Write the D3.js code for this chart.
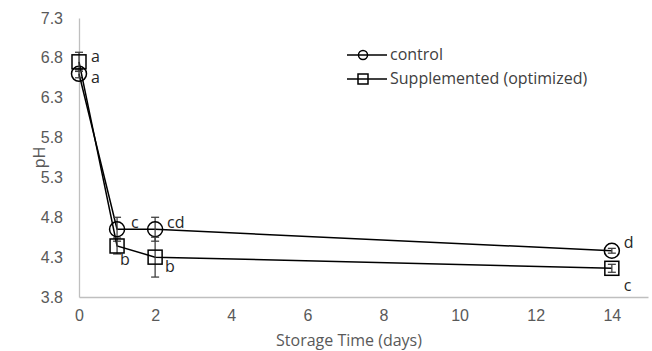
<!DOCTYPE html>
<html>
<head>
<meta charset="utf-8">
<script src="https://cdn.jsdelivr.net/npm/d3@7"></script>
<style>
  body { margin: 0; background: #fff; }
  svg { font-family: "Open Sans", "Liberation Sans", sans-serif; }
</style>
</head>
<body>
<div id="chart"></div>
<script>
// storage days
var days = [0, 1, 2, 14];

// mean pH per series
var controlPH = [6.6, 4.65, 4.65, 4.38];
var suppPH = [6.75, 4.44, 4.3, 4.16];

// error bar half-widths
var controlErr = [0.05, 0.15, 0.15, 0.03];
var suppErr = [0.12, 0.1, 0.25, 0.05];

// significance letters
var controlLetters = ['a', 'c', 'cd', 'd'];
var suppLetters = ['a', 'b', 'b', 'c'];

var seriesNames = ['control', 'Supplemented (optimized)'];
var xTicks = [0, 2, 4, 6, 8, 10, 12, 14];
var yTicks = [3.8, 4.3, 4.8, 5.3, 5.8, 6.3, 6.8, 7.3];

var width = 652, height = 351;
var margin = {top: 18, left: 79, right: 4, bottom: 54};

var svg = d3.select('#chart').append('svg')
    .attr('width', width)
    .attr('height', height);

var x = d3.scaleLinear()
    .domain([0, 14.95])
    .range([margin.left, width - margin.right]);

var y = d3.scaleLinear()
    .domain([3.8, 7.3])
    .range([height - margin.bottom, margin.top]);

var grey = '#bfbfbf';
var textGrey = '#595959';
var fs = '16px';

// axes
var xAxis = svg.append('g')
    .attr('transform', 'translate(0,' + y(3.8) + ')')
    .call(d3.axisBottom(x).tickValues(xTicks).tickSize(0).tickPadding(13));
xAxis.select('path').attr('stroke', grey).attr('stroke-width', 1.3);
xAxis.selectAll('text').attr('fill', textGrey).style('font-size', fs);

var yAxis = svg.append('g')
    .attr('transform', 'translate(' + x(0) + ',0)')
    .call(d3.axisLeft(y).tickValues(yTicks).tickFormat(d3.format('.1f')).tickSize(0).tickPadding(16));
yAxis.select('path').attr('stroke', grey).attr('stroke-width', 1.3);
yAxis.selectAll('text').attr('fill', textGrey).style('font-size', fs);

svg.append('text')
    .attr('x', 349)
    .attr('y', 346)
    .attr('text-anchor', 'middle')
    .attr('fill', textGrey)
    .style('font-size', fs)
    .text('Storage Time (days)');

svg.append('text')
    .attr('transform', 'translate(45,' + ((y(3.8) + y(7.3)) / 2) + ') rotate(-90)')
    .attr('text-anchor', 'middle')
    .attr('fill', textGrey)
    .style('font-size', fs)
    .text('pH');

var line = d3.line()
    .x(d => x(d[0]))
    .y(d => y(d[1]));

function drawSeries(vals, errs, letters, shape, labelOffsets) {
    var pts = days.map((d, i) => [d, vals[i]]);
    var g = svg.append('g');

    g.append('path')
        .attr('d', line(pts))
        .attr('fill', 'none')
        .attr('stroke', 'black')
        .attr('stroke-width', 1.5);

    // error bars
    pts.forEach((p, i) => {
        var cx = x(p[0]), top = y(p[1] + errs[i]), bot = y(p[1] - errs[i]);
        g.append('line').attr('x1', cx).attr('x2', cx).attr('y1', top).attr('y2', bot)
            .attr('stroke', '#404040').attr('stroke-width', 1.3);
        [top, bot].forEach(yy => {
            g.append('line').attr('x1', cx - 4).attr('x2', cx + 4).attr('y1', yy).attr('y2', yy)
                .attr('stroke', '#404040').attr('stroke-width', 1.3);
        });
    });

    // markers
    pts.forEach(p => {
        if (shape === 'circle') {
            g.append('circle').attr('cx', x(p[0])).attr('cy', y(p[1])).attr('r', 7.5)
                .attr('fill', 'none').attr('stroke', 'black').attr('stroke-width', 1.5);
        } else {
            g.append('rect').attr('x', x(p[0]) - 7).attr('y', y(p[1]) - 7)
                .attr('width', 14).attr('height', 14)
                .attr('fill', 'none').attr('stroke', 'black').attr('stroke-width', 1.5);
        }
    });

    // letters
    pts.forEach((p, i) => {
        g.append('text')
            .attr('x', x(p[0]) + labelOffsets[i][0])
            .attr('y', y(p[1]) + labelOffsets[i][1])
            .attr('fill', '#262626')
            .style('font-size', fs)
            .text(letters[i]);
    });
}

drawSeries(controlPH, controlErr, controlLetters, 'circle', [[12, 9], [14, -1], [12, -1], [12, -3]]);
drawSeries(suppPH, suppErr, suppLetters, 'square', [[12, 0], [3, 19], [10, 15], [12, 23]]);

// legend
var legend = svg.append('g');
seriesNames.forEach((name, i) => {
    var ly = 55 + i * 24;
    legend.append('line').attr('x1', 347).attr('x2', 387).attr('y1', ly).attr('y2', ly)
        .attr('stroke', 'black').attr('stroke-width', 1.5);
    if (i === 0) {
        legend.append('circle').attr('cx', 363).attr('cy', ly).attr('r', 4.5)
            .attr('fill', 'none').attr('stroke', 'black').attr('stroke-width', 1.5);
    } else {
        legend.append('rect').attr('x', 358).attr('y', ly - 5).attr('width', 10).attr('height', 10)
            .attr('fill', 'none').attr('stroke', 'black').attr('stroke-width', 1.5);
    }
    legend.append('text').attr('x', 390).attr('y', ly + 5)
        .attr('fill', '#404040')
        .style('font-size', fs)
        .text(name);
});
</script>
</body>
</html>
